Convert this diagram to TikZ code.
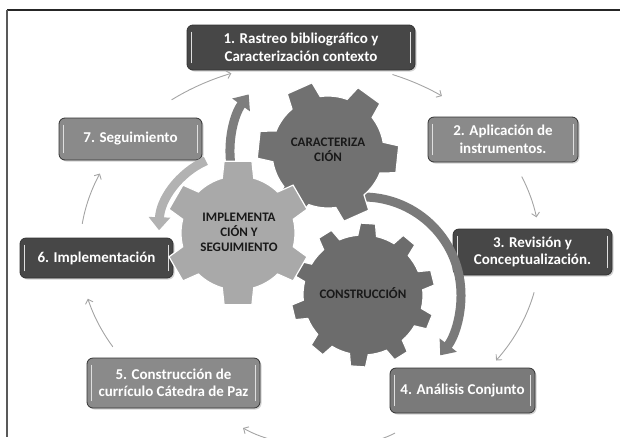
\documentclass[tikz,border=0pt]{standalone}
\usepackage{fontspec}
\setmainfont{Carlito}
\usetikzlibrary{arrows.meta,calc,shadows}
\definecolor{boxdark}{HTML}{474747}
\definecolor{boxmid}{HTML}{8A8A8A}
\definecolor{boxmidd}{HTML}{7A7A7A}
\definecolor{gearA}{HTML}{717171}
\definecolor{gearB}{HTML}{A9A9A9}
\definecolor{gearC}{HTML}{6C6C6C}
\definecolor{arrA}{HTML}{7E7E7E}
\definecolor{arrB}{HTML}{B2B2B2}
\definecolor{arrC}{HTML}{7A7A7A}
\definecolor{conncol}{HTML}{A4A4A4}
\newcommand{\drawgear}[8]{%
  \pgfmathsetmacro{\gstep}{360/#2}%
  \begin{scope}[shift={(#1)}]
  \filldraw[fill=#8, draw=white, line width=1.2pt]
    ({#5-#6}:#3)
    \foreach \i in {1,...,#2}{
      -- ({#5+(\i-1)*\gstep-#7}:#4) -- ({#5+(\i-1)*\gstep+#7}:#4)
      -- ({#5+(\i-1)*\gstep+#6}:#3)
      arc[start angle={#5+(\i-1)*\gstep+#6}, end angle={#5+\i*\gstep-#6}, radius=#3]
    } -- cycle;
  \end{scope}}
\begin{document}
\begin{tikzpicture}[x=1pt,y=-1pt,
  box/.style={rounded corners=6pt, draw=black!80, line width=0.8pt, text=white,
    font=\fontsize{15}{17.5}\selectfont\bfseries, align=center, inner sep=0pt,
    drop shadow={shadow xshift=1.5pt, shadow yshift=-1.5pt, opacity=0.35}},
  hl/.style={draw=white!75!gray, line width=1.6pt, line cap=round},
  gtext/.style={text=black!90, font=\fontsize{13}{15}\selectfont\bfseries, align=center, inner sep=0pt},
  conn/.style={draw=conncol, line width=0.9pt, -{Straight Barb[length=4pt,width=8pt]}},
  fat/.style={line width=9pt, line cap=butt, -{Triangle[length=13pt,width=21pt]}}
]
\useasboundingbox (0,0) rectangle (620,437);
% frame
\draw[line width=1.5pt, black!85] (7,10) -- (620,10);
\draw[line width=2pt, black!65] (7,10) -- (7,437);

% boxes
\node[box, fill=boxdark, minimum width=228pt, minimum height=45pt] (b1) at (301,47.5) {1. Rastreo bibliográfico y\\Caracterización contexto};
\node[box, fill=boxmid, minimum width=150pt, minimum height=45pt] (b2) at (503,139.5) {2. Aplicación de\\instrumentos.};
\node[box, fill=boxdark, minimum width=159pt, minimum height=46pt] (b3) at (532.5,252) {3. Revisión y\\Conceptualización.};
\node[box, fill=boxmidd, minimum width=145pt, minimum height=45pt] (b4) at (462.5,390.5) {4. Análisis Conjunto};
\node[box, fill=boxmid, minimum width=173pt, minimum height=50pt] (b5) at (173.5,383) {5. Construcción de\\currículo Cátedra de Paz};
\node[box, fill=boxdark, minimum width=153pt, minimum height=40pt] (b6) at (96.5,258) {6. Implementación};
\node[box, fill=boxmid, minimum width=143pt, minimum height=42pt] (b7) at (130.5,139) {7. Seguimiento};
\foreach \i in {1,...,7}{
  \draw[hl] ([xshift=5pt,yshift=-8pt]b\i.north west) -- ([xshift=5pt,yshift=8pt]b\i.south west);
  \draw[hl] ([xshift=-5pt,yshift=-8pt]b\i.north east) -- ([xshift=-5pt,yshift=8pt]b\i.south east);
}

% cycle connectors
\coordinate (O) at (310,250);
\coordinate (k71) at ($(O)+(-127:230 and 188)$);
\coordinate (k12) at ($(O)+(-69:230 and 188)$);
\coordinate (k23) at ($(O)+(-23:230 and 188)$);
\coordinate (k34) at ($(O)+(13:230 and 188)$);
\coordinate (k56) at ($(O)+(149:230 and 188)$);
\coordinate (k67) at ($(O)+(188:230 and 188)$);
\coordinate (k45s) at (395,433);
\coordinate (k45e) at (243,428);
\draw[conn] (k71) arc[start angle=-127, end angle=-110, x radius=230, y radius=188];
\draw[conn] (k12) arc[start angle=-69, end angle=-55, x radius=230, y radius=188];
\draw[conn] (k23) arc[start angle=-23, end angle=-10, x radius=230, y radius=188];
\draw[conn] (k34) arc[start angle=13, end angle=36, x radius=230, y radius=188];
\draw[conn] (k45s) .. controls (360,452) and (285,452) .. (k45e);
\draw[conn] (k56) arc[start angle=149, end angle=165, x radius=230, y radius=188];
\draw[conn] (k67) arc[start angle=188, end angle=204, x radius=230, y radius=188];

% gear centres
\coordinate (gA) at (328,152);
\coordinate (gB) at (238,233);
\coordinate (gC) at (363,295);

% thick circular arrows
\coordinate (fC) at ($(gC)+(-95:98)$);
\draw[fat, draw=arrC] (fC) arc[start angle=-95, end angle=38, radius=98];
\coordinate (fB) at ($(gB)+(246:79)$);
\draw[fat, draw=arrB] (fB) arc[start angle=246, end angle=182, radius=79];
\coordinate (fA) at ($(gA)+(172:98)$);
\draw[fat, draw=arrA] (fA) arc[start angle=172, end angle=216, radius=98];

% gears
\drawgear{gC}{10}{60}{72}{-86}{9}{6}{gearC}
\drawgear{gA}{6}{56}{71}{6}{16}{11}{gearA}
\drawgear{gB}{6}{57}{73}{-90}{16}{11}{gearB}

\node[gtext] (nA) at (328,150) {CARACTERIZA\\CIÓN};
\node[gtext] (nB) at (239,232) {IMPLEMENTA\\CIÓN Y\\SEGUIMIENTO};
\node[gtext] (nC) at (363,293) {CONSTRUCCIÓN};
\end{tikzpicture}
\end{document}
